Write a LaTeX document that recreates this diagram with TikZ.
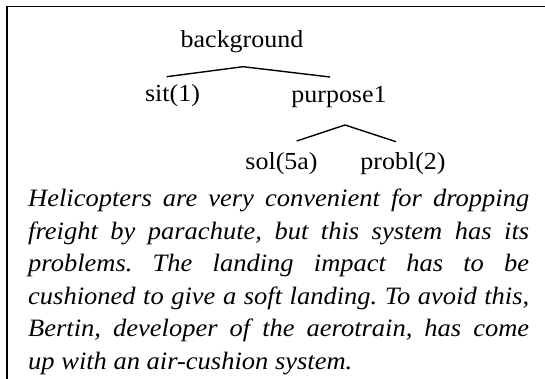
\documentclass[tikz,border=0pt]{standalone}
\usepackage{fontspec}
\setmainfont[FakeStretch=1.06]{Liberation Serif}
\frenchspacing
\begin{document}
\begin{tikzpicture}[x=1pt,y=-1pt]
   \tikzstyle{word} = [anchor=base, inner sep=0pt, font=\fontsize{24.5}{28}\selectfont]
   \tikzstyle{branch} = [draw, line width=1.4pt]
   \tikzstyle{story} = [anchor=base west, inner sep=0pt, text width=501pt,
                        align=justify, font=\fontsize{25}{32.4}\selectfont\itshape]
   \useasboundingbox (0,0) rectangle (545,379);
   \draw [line width=1.8pt] (6.7,379) -- (6.7,6.5) -- (545,6.5);

   \node [word] (bg) at (242,48) {background};
   \node [word] (sit) at (172.5,102) {sit(1)};
   \node [word] (purp) at (339,103) {purpose1};
   \node [word] (sol) at (281.5,170) {sol(5a)};
   \node [word] (probl) at (403,170) {probl(2)};

   \coordinate (bgtip) at (243,66.7);
   \coordinate (sitarm) at (166.7,76.7);
   \coordinate (purparm) at (330,77);
   \coordinate (purptip) at (345,125);
   \coordinate (solarm) at (296.7,141);
   \coordinate (problarm) at (396,141.7);

   \path [branch] (sitarm) -- (bgtip) -- (purparm);
   \path [branch] (solarm) -- (purptip) -- (problarm);

   \node [story] (text) at (28,207) {Helicopters are very convenient for dropping\linebreak
     freight by parachute, but this system has its\linebreak
     problems. The landing impact has to be\linebreak
     cushioned to give a soft landing. To avoid this,\linebreak
     Bertin, developer of the aerotrain, has come\linebreak
     up with an air-cushion system.};
\end{tikzpicture}
\end{document}
